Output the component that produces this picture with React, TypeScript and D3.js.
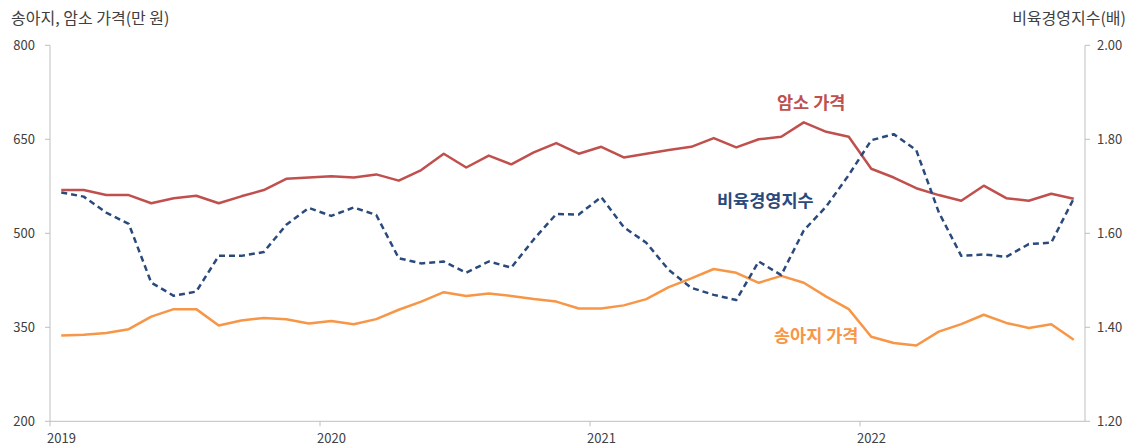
import React from "react";
import * as d3 from "d3";

const years = ["2019", "2020", "2021", "2022"];
const months: string[] = [];
for (const y of [2019, 2020, 2021, 2022]) {
  for (let m = 1; m <= 12; m++) {
    if (y === 2022 && m > 10) break;
    months.push(`${y}-${String(m).padStart(2, "0")}`);
  }
}

const cowPrice = [
  569, 569, 561, 561, 548, 556, 560, 548, 559, 569, 587, 589,
  591, 589, 594, 584, 601, 627, 605, 624, 610, 629, 644, 627,
  638, 621, 627, 633, 638, 652, 637, 650, 654, 677, 662, 654,
  603, 589, 572, 561, 552, 576, 556, 552, 563, 555,
];
const calfPrice = [
  337, 338, 341, 347, 367, 379, 379, 353, 361, 365, 363, 356,
  360, 355, 363, 378, 391, 406, 400, 404, 400, 395, 391, 380,
  380, 385, 395, 414, 428, 443, 437, 421, 432, 421, 399, 379,
  335, 325, 321, 343, 355, 370, 357, 349, 355, 330,
];
const fatteningIndex = [
  1.687, 1.678, 1.644, 1.62, 1.495, 1.467, 1.476, 1.552, 1.552, 1.56, 1.618, 1.654,
  1.637, 1.655, 1.639, 1.547, 1.536, 1.54, 1.516, 1.54, 1.527, 1.587, 1.641, 1.64,
  1.677, 1.613, 1.58, 1.522, 1.484, 1.469, 1.458, 1.54, 1.511, 1.606, 1.657, 1.724,
  1.798, 1.811, 1.777, 1.645, 1.552, 1.555, 1.55, 1.577, 1.58, 1.674,
];
const leftTicks = [200, 350, 500, 650, 800];
const rightTicks = [1.2, 1.4, 1.6, 1.8, 2.0];

const W = 1145;
const H = 448;
const X0 = 50;
const X1 = 1085;
const YT = 45.3;
const YB = 421.3;

const RED = "#C0504D";
const ORANGE = "#F79646";
const BLUE = "#2B4A7C";
const AXIS = "#BFBFBF";
const TXT = "#404040";
const FONT = "'Noto Sans CJK KR', 'Noto Sans', sans-serif";

export default function App() {
  const x = d3.scaleBand<string>().domain(months).range([X0, X1]).padding(0);
  const cx = (i: number) => (x(months[i]) as number) + x.bandwidth() / 2;
  const yL = d3.scaleLinear().domain([200, 800]).range([YB, YT]);
  const yR = d3.scaleLinear().domain([1.2, 2.0]).range([YB, YT]);

  const lineL = (vals: number[]) =>
    d3.line<number>().x((_, i) => cx(i)).y((v) => yL(v))(vals) as string;
  const lineR = (vals: number[]) =>
    d3.line<number>().x((_, i) => cx(i)).y((v) => yR(v))(vals) as string;

  return (
    <div style={{ position: "fixed", left: 0, top: 0, width: W, height: H, background: "#fff" }}>
      <svg width={W} height={H} style={{ display: "block", fontFamily: FONT }}>
        {/* axis titles */}
        <text x={11} y={24} fontSize={16} fill={TXT}>송아지, 암소 가격(만 원)</text>
        <text x={1126} y={24} fontSize={16} fill={TXT} textAnchor="end">비육경영지수(배)</text>

        {/* left axis */}
        <line x1={X0} x2={X0} y1={YT} y2={YB} stroke={AXIS} strokeWidth={1} />
        {leftTicks.map((t) => (
          <g key={"l" + t}>
            <line x1={X0 - 5} x2={X0} y1={yL(t)} y2={yL(t)} stroke={AXIS} />
            <text x={35} y={yL(t)} dy="0.35em" fontSize={13} fill={TXT} textAnchor="end">
              {t}
            </text>
          </g>
        ))}

        {/* right axis */}
        <line x1={X1} x2={X1} y1={YT} y2={YB} stroke={AXIS} strokeWidth={1} />
        {rightTicks.map((t) => (
          <g key={"r" + t}>
            <line x1={X1} x2={X1 + 5} y1={yR(t)} y2={yR(t)} stroke={AXIS} />
            <text x={1097} y={yR(t)} dy="0.35em" fontSize={13} fill={TXT}>
              {t.toFixed(2)}
            </text>
          </g>
        ))}

        {/* bottom axis */}
        <line x1={X0} x2={X1} y1={YB} y2={YB} stroke={AXIS} />
        {years.map((yr) => {
          const tx = x(`${yr}-01`) as number;
          return (
            <g key={yr}>
              <line x1={tx} x2={tx} y1={YB} y2={YB + 5} stroke={AXIS} />
              <text x={tx - 3} y={443} fontSize={13} fill={TXT}>
                {yr}
              </text>
            </g>
          );
        })}

        {/* series */}
        <path d={lineL(calfPrice)} fill="none" stroke={ORANGE} strokeWidth={2.5} strokeLinejoin="round" />
        <path d={lineL(cowPrice)} fill="none" stroke={RED} strokeWidth={2.5} strokeLinejoin="round" />
        <path
          d={lineR(fatteningIndex)}
          fill="none"
          stroke={BLUE}
          strokeWidth={2.5}
          strokeDasharray="6 4"
          strokeLinejoin="round"
        />

        {/* labels */}
        <text x={777} y={109} fontSize={17.5} fontWeight="bold" fill={RED}>암소 가격</text>
        <text x={717} y={207} fontSize={17.5} fontWeight="bold" fill={BLUE}>비육경영지수</text>
        <text x={774} y={342} fontSize={17.5} fontWeight="bold" fill={ORANGE}>송아지 가격</text>
      </svg>
    </div>
  );
}
